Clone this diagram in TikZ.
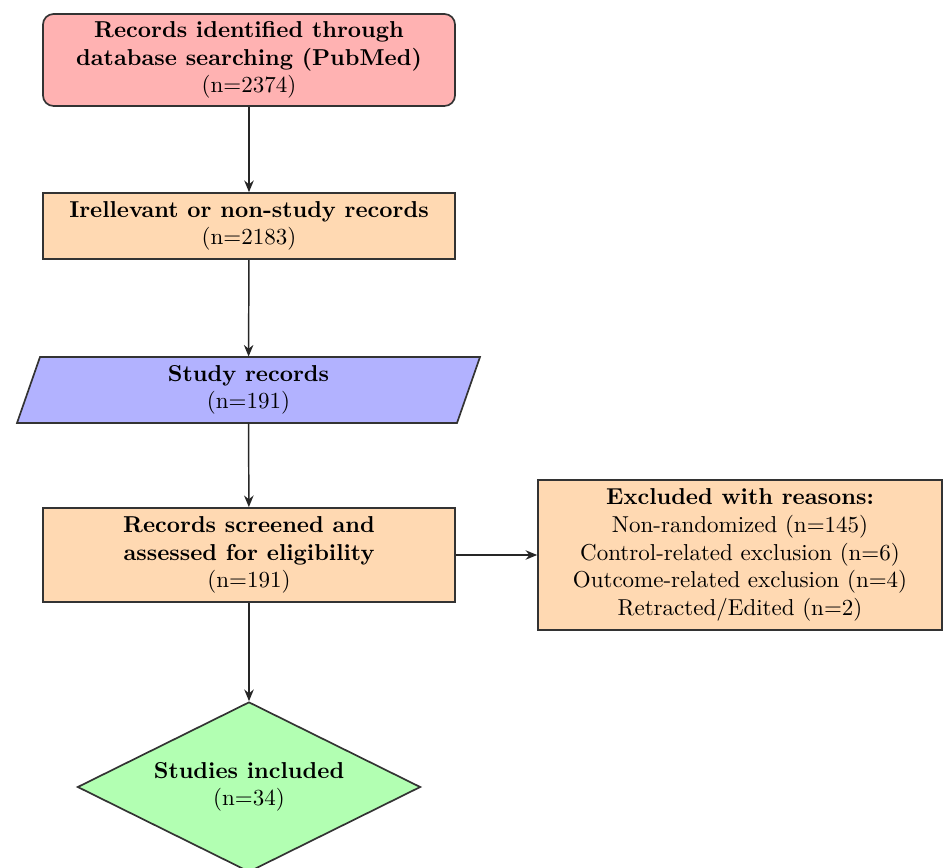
\documentclass[tikz,border=0pt]{standalone}
\usetikzlibrary{shapes.geometric,arrows.meta}
\begin{document}
\begin{tikzpicture}[x=0.474pt,y=-0.474pt,
  every node/.style={align=center,inner sep=0pt,font=\fontsize{10.9}{13.1}\selectfont},
  boxbase/.style={draw=black!80,line width=0.8pt,minimum width=195.3pt},
  redbox/.style={boxbase,fill=red!30,rounded corners=5pt,minimum height=43.6pt},
  orangebox/.style={boxbase,fill=orange!30},
  flow/.style={-{Stealth[length=5.5pt,width=4.5pt]},line width=0.7pt,black!85}
]
\useasboundingbox (0,0) rectangle (944,868);
\node[redbox] (ident) at (249,60) {\textbf{Records identified through}\\\textbf{database searching (PubMed)}\\(n=2374)};
\node[orangebox,minimum height=31.3pt] (irrel) at (249,226) {\textbf{Irellevant or non-study records}\\(n=2183)};
\draw[draw=black!80,fill=blue!30,line width=0.8pt] (40,357) -- (480,357) -- (457,423) -- (17,423) -- cycle;
\node[minimum width=195pt,minimum height=31.3pt] (study) at (248.5,390) {\textbf{Study records}\\(n=191)};
\node[orangebox,minimum height=44.6pt] (screen) at (249,555) {\textbf{Records screened and}\\\textbf{assessed for eligibility}\\(n=191)};
\node[boxbase,fill=orange!30,minimum width=191.5pt,minimum height=71.1pt] (excl) at (740,555) {\textbf{Excluded with reasons:}\\Non-randomized (n=145)\\Control-related exclusion (n=6)\\Outcome-related exclusion (n=4)\\Retracted/Edited (n=2)};
\node[diamond,draw=black!80,fill=green!30,line width=0.8pt,aspect=2,minimum width=162.6pt,minimum height=80.6pt] (incl) at (249,787) {\textbf{Studies included}\\(n=34)};
\draw[flow] (ident) -- (irrel);
\draw[flow] (irrel) -- (study);
\draw[flow] (study) -- (screen);
\draw[flow] (screen) -- (incl);
\draw[flow] (screen) -- (excl);
\end{tikzpicture}
\end{document}
